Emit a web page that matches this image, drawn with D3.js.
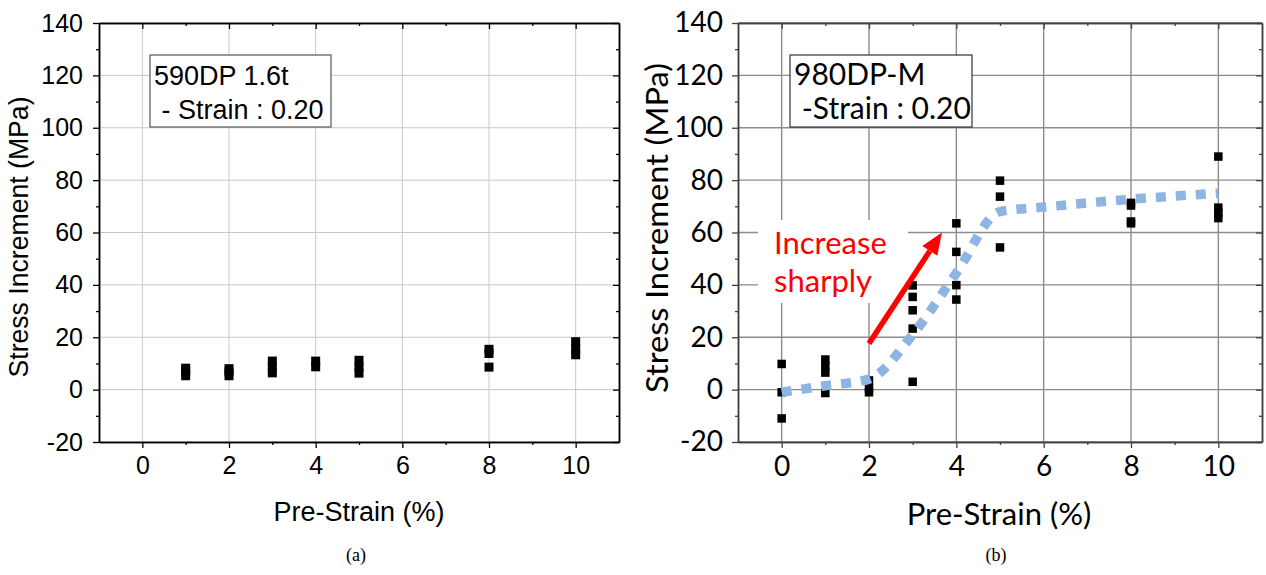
<!DOCTYPE html>
<html>
<head>
<meta charset="utf-8">
<script src="https://cdn.jsdelivr.net/npm/d3@7"></script>
<style>
  body { margin: 0; background: #fff; }
</style>
</head>
<body>
<div id="chart"></div>
<script>
// tick values shared by both panels
var xTicks = [0, 2, 4, 6, 8, 10];
var xMinor = [1, 3, 5, 7, 9];
var yTicks = [-20, 0, 20, 40, 60, 80, 100, 120, 140];
var yMinor = [-10, 10, 30, 50, 70, 90, 110, 130];

// (a) 590DP 1.6t
var strainA = [1, 1, 1, 2, 2, 2, 3, 3, 3, 4, 4, 5, 5, 5, 8, 8, 8, 10, 10, 10];
var stressA = [5.3, 7, 8.2, 5.3, 6.8, 8, 6.4, 8.6, 10.9, 8.7, 10.9, 6.3, 8.7, 11.2, 8.6, 13.8, 15.4, 13.3, 15.6, 18.3];

// (b) 980DP-M
var strainB = [0, 0, 0, 1, 1, 1, 1, 2, 2, 2, 3, 3, 3, 3, 3, 4, 4, 4, 4, 5, 5, 5, 8, 8, 8, 8, 10, 10, 10, 10];
var stressB = [-11, -1, 9.8, -1.3, 6.5, 9, 11.5, -1, 0.5, 3.5, 3, 23.3, 30.3, 35.4, 39.8, 34.4, 39.9, 52.6, 63.5, 54.3, 73.7, 79.8, 63.5, 64.2, 70.3, 71.3, 65.5, 67.5, 69.5, 89];

// dotted trend in (b)
var trendX = [0, 1, 2, 3, 4, 5, 6, 8, 10];
var trendY = [-1, 1.5, 4, 21, 44.5, 68, 69.7, 72.7, 75];

// red arrow in (b), data coords
var arrowFrom = [2.0, 17.6];
var arrowTo = [3.67, 60];

var svg = d3.select("#chart")
    .append("svg")
    .attr("width", 1266)
    .attr("height", 575);

var fmt = function (d) { return String(d); };   // plain hyphen for negatives

function panel(o) {
    var x = d3.scaleLinear().domain([-1, 11]).range([o.left, o.right]);
    var y = d3.scaleLinear().domain([-20, 140]).range([442, 23]);
    var g = svg.append("g").style("font-family", o.font);

    // grid
    g.append("g").selectAll("line")
        .data(xTicks).enter().append("line")
        .attr("x1", function (d) { return x(d); })
        .attr("x2", function (d) { return x(d); })
        .attr("y1", y(140)).attr("y2", y(-20))
        .attr("stroke", o.grid).attr("stroke-width", o.gridW);
    g.append("g").selectAll("line")
        .data(yTicks).enter().append("line")
        .attr("x1", x(-1)).attr("x2", x(11))
        .attr("y1", function (d) { return y(d); })
        .attr("y2", function (d) { return y(d); })
        .attr("stroke", o.grid).attr("stroke-width", o.gridW);

    // axes: bottom/left outward with labels, top/right inward
    var axes = [
        [d3.axisBottom(x).tickValues(xTicks).tickSize(6).tickPadding(o.xPad).tickFormat(fmt), "translate(0," + y(-20) + ")"],
        [d3.axisBottom(x).tickValues(xMinor).tickSize(3).tickFormat(""), "translate(0," + y(-20) + ")"],
        [d3.axisLeft(y).tickValues(yTicks).tickSize(6).tickPadding(o.yPad).tickFormat(fmt), "translate(" + x(-1) + ",0)"],
        [d3.axisLeft(y).tickValues(yMinor).tickSize(3).tickFormat(""), "translate(" + x(-1) + ",0)"],
        [d3.axisBottom(x).tickValues(xTicks).tickSize(6).tickFormat(""), "translate(0," + y(140) + ")"],
        [d3.axisBottom(x).tickValues(xMinor).tickSize(3).tickFormat(""), "translate(0," + y(140) + ")"],
        [d3.axisLeft(y).tickValues(yTicks).tickSize(6).tickFormat(""), "translate(" + x(11) + ",0)"],
        [d3.axisLeft(y).tickValues(yMinor).tickSize(3).tickFormat(""), "translate(" + x(11) + ",0)"]
    ];
    axes.forEach(function (a) {
        var ax = g.append("g").attr("transform", a[1])
            .call(a[0].tickSizeOuter(0));
        ax.select(".domain").attr("stroke", o.axis).attr("stroke-width", 1.5);
        ax.selectAll(".tick line").attr("stroke", o.axis).attr("stroke-width", 1.3);
        ax.selectAll("text").attr("fill", "#000")
            .style("font-family", o.font).style("font-size", o.tickSize + "px");
    });

    return { g: g, x: x, y: y };
}

function points(p, xs, ys, size) {
    p.g.append("g").selectAll("rect")
        .data(xs).enter().append("rect")
        .attr("x", function (d) { return p.x(d) - size / 2; })
        .attr("y", function (d, i) { return p.y(ys[i]) - size / 2; })
        .attr("width", size).attr("height", size)
        .attr("fill", "#000");
}

function labels(p, o) {
    p.g.append("text")
        .attr("transform", "translate(" + o.yLabX + "," + o.yLabY + ") rotate(-90)")
        .attr("text-anchor", "middle")
        .attr("textLength", o.yLabLen)
        .attr("lengthAdjust", "spacingAndGlyphs")
        .style("font-size", o.labSize + "px")
        .text("Stress Increment (MPa)");
    p.g.append("text")
        .attr("x", o.xLabX).attr("y", o.xLabY)
        .attr("text-anchor", "middle")
        .style("font-size", o.labSize + "px")
        .text("Pre-Strain (%)");
    svg.append("text")
        .attr("x", o.capX).attr("y", 561)
        .attr("text-anchor", "middle")
        .style("font-family", "'Liberation Serif', 'DejaVu Serif', serif")
        .style("font-size", "18px")
        .text(o.cap);
}

function legendBox(p, o) {
    p.g.append("rect")
        .attr("x", o.bx).attr("y", 55).attr("width", o.bw).attr("height", 72)
        .attr("fill", "#fff").attr("stroke", o.bStroke).attr("stroke-width", 1.2);
    var t = p.g.append("text").style("font-size", o.legSize + "px").attr("xml:space", "preserve");
    t.append("tspan").attr("x", o.bx + 4).attr("y", 85).text(o.line1);
    t.append("tspan").attr("x", o.bx + 4).attr("y", 119).text(o.line2);
}

// ---------- (a)
var pa = panel({
    left: 99, right: 619, font: "'Liberation Sans', Arial, sans-serif",
    grid: "#c8c8c8", gridW: 1, axis: "#000", tickSize: 25, xPad: 8, yPad: 10
});
legendBox(pa, { bx: 150, bw: 181, bStroke: "#555", legSize: 27, line1: "590DP 1.6t", line2: " - Strain : 0.20" });
points(pa, strainA, stressA, 9);
labels(pa, { yLabX: 28, yLabY: 237, yLabLen: 281, xLabX: 359, xLabY: 521, labSize: 27, capX: 356, cap: "(a)" });

// ---------- (b)
var pb = panel({
    left: 738, right: 1262, font: "Lato, 'Open Sans', sans-serif",
    grid: "#8c8c8c", gridW: 1.4, axis: "#404040", tickSize: 28, xPad: 8, yPad: 9
});
legendBox(pb, { bx: 790, bw: 182, bStroke: "#333", legSize: 30, line1: "980DP-M", line2: " -Strain : 0.20" });
points(pb, strainB, stressB, 8.5);

// white patch behind annotation
pb.g.append("rect")
    .attr("x", 758).attr("y", 220).attr("width", 150).attr("height", 83)
    .attr("fill", "#fff");

var trend = d3.line()
    .x(function (d) { return pb.x(d); })
    .y(function (d, i) { return pb.y(trendY[i]); })
    .curve(d3.curveMonotoneX);
pb.g.append("path")
    .attr("d", trend(trendX))
    .attr("fill", "none")
    .attr("stroke", "#8db4e2")
    .attr("stroke-width", 9.5)
    .attr("stroke-dasharray", "10,10");

pb.g.append("text")
    .attr("fill", "#ff0000")
    .style("font-size", "31px")
    .selectAll("tspan")
    .data(["Increase", "sharply"]).enter().append("tspan")
    .attr("x", 774)
    .attr("y", function (d, i) { return 254 + i * 38; })
    .text(function (d) { return d; });

// arrow
var tx = pb.x(arrowFrom[0]), ty = pb.y(arrowFrom[1]);
var hx = pb.x(arrowTo[0]), hy = pb.y(arrowTo[1]);
var len = Math.hypot(hx - tx, hy - ty), ux = (hx - tx) / len, uy = (hy - ty) / len;
var bx = hx - 22 * ux, by = hy - 22 * uy;
pb.g.append("line")
    .attr("x1", tx).attr("y1", ty).attr("x2", bx).attr("y2", by)
    .attr("stroke", "#ff0000").attr("stroke-width", 5.5);
pb.g.append("path")
    .attr("d", "M" + hx + "," + hy + "L" + (bx - 9 * uy) + "," + (by + 9 * ux) + "L" + (bx + 9 * uy) + "," + (by - 9 * ux) + "Z")
    .attr("fill", "#ff0000");

labels(pb, { yLabX: 668, yLabY: 228, yLabLen: 330, xLabX: 999, xLabY: 525, labSize: 31, capX: 996, cap: "(b)" });
</script>
</body>
</html>
